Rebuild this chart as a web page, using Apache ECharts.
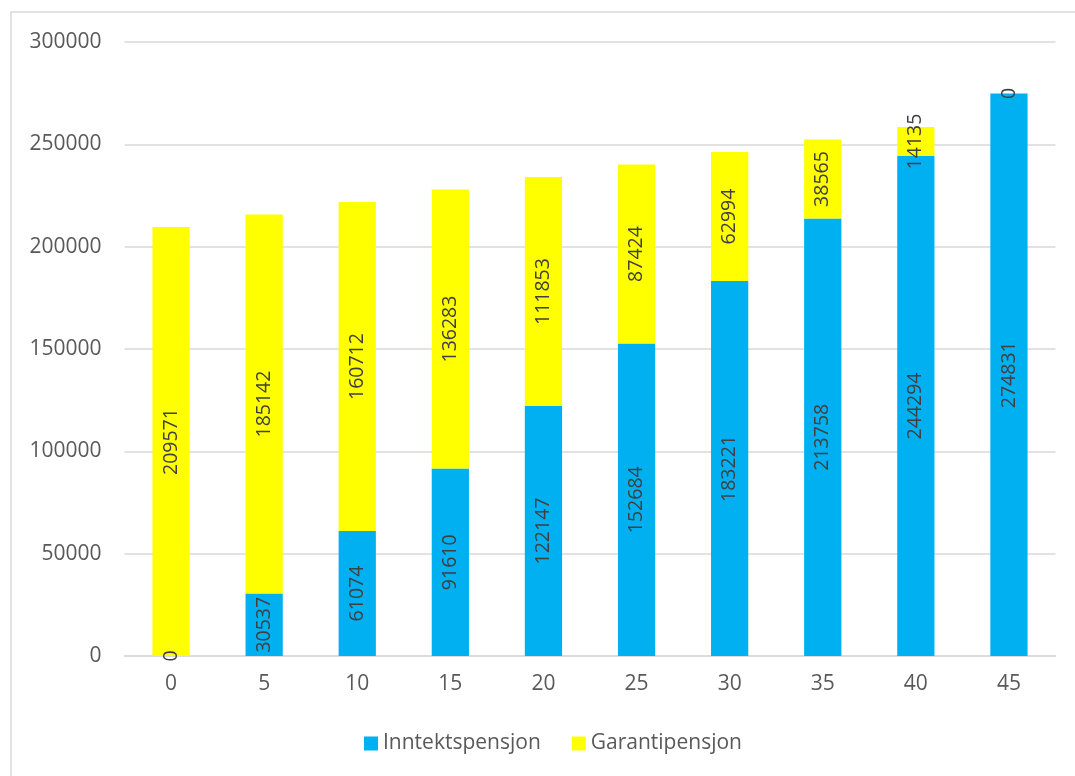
<!DOCTYPE html>
<html>
<head>
<meta charset="utf-8">
<script src="https://cdn.jsdelivr.net/npm/echarts@6/dist/echarts.min.js"></script>
<style>
  html, body { margin: 0; padding: 0; background: #ffffff; }
  #chart { width: 1075px; height: 776px; }
</style>
</head>
<body>
<div id="chart"></div>
<script>
// Years of earning (x categories)
const categories = ['0', '5', '10', '15', '20', '25', '30', '35', '40', '45'];
// Income-based pension per category
const inntektspensjon = [0, 30537, 61074, 91610, 122147, 152684, 183221, 213758, 244294, 274831];
// Guarantee pension per category
const garantipensjon = [209571, 185142, 160712, 136283, 111853, 87424, 62994, 38565, 14135, 0];
const seriesNames = ['Inntektspensjon', 'Garantipensjon'];

const FONT = '"Open Sans", "Noto Sans", sans-serif';
const TEXT = '#595959';

const chart = echarts.init(document.getElementById('chart'), null, { renderer: 'canvas' });

const barLabel = {
  show: true,
  position: 'inside',
  rotate: 90,
  color: '#404040',
  fontFamily: FONT,
  fontSize: 19.5
};

chart.setOption({
  animation: false,
  backgroundColor: '#ffffff',
  graphic: [{
    type: 'rect',
    shape: { x: 11, y: 12, width: 1200, height: 900 },
    style: { fill: 'none', stroke: '#d9d9d9', lineWidth: 1.5 },
    silent: true
  }],
  grid: { left: 124.5, right: 19.5, top: 42, bottom: 120, containLabel: false },
  legend: {
    top: 728,
    left: 359,
    itemWidth: 14,
    itemHeight: 14,
    itemGap: 31,
    icon: 'rect',
    textStyle: { color: TEXT, fontFamily: FONT, fontSize: 21 },
    data: seriesNames
  },
  xAxis: {
    type: 'category',
    data: categories,
    axisLine: { lineStyle: { color: '#d9d9d9', width: 1.5 } },
    axisTick: { show: false },
    axisLabel: { color: TEXT, fontFamily: FONT, fontSize: 21, margin: 18 }
  },
  yAxis: {
    type: 'value',
    min: 0,
    max: 300000,
    interval: 50000,
    axisLine: { show: false },
    axisTick: { show: false },
    splitLine: { lineStyle: { color: '#d9d9d9', width: 1.5 } },
    axisLabel: {
      color: TEXT, fontFamily: FONT, fontSize: 21, margin: 23,
      formatter: v => String(v)
    }
  },
  series: [
    {
      name: seriesNames[0],
      type: 'bar',
      stack: 'total',
      barWidth: '40%',
      data: inntektspensjon,
      itemStyle: { color: '#00B0F0' },
      label: barLabel
    },
    {
      name: seriesNames[1],
      type: 'bar',
      stack: 'total',
      barWidth: '40%',
      data: garantipensjon,
      itemStyle: { color: '#FFFF00' },
      label: barLabel
    }
  ]
});
</script>
</body>
</html>
